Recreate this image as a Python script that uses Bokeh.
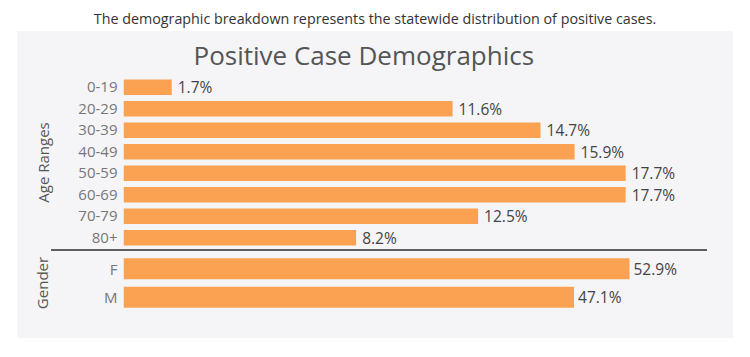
from bokeh.plotting import figure
from bokeh.models import ColumnDataSource, FactorRange, Range1d, Div
from bokeh.layouts import column
from bokeh.embed import file_html
from bokeh.resources import INLINE
from bokeh.core.properties import value

CAPTION = "The demographic breakdown represents the statewide distribution of positive cases."
TITLE = "Positive Case Demographics"
age_groups = ["0-19", "20-29", "30-39", "40-49", "50-59", "60-69", "70-79", "80+"]
age_pct = [1.7, 11.6, 14.7, 15.9, 17.7, 17.7, 12.5, 8.2]
genders = ["F", "M"]
gender_pct = [52.9, 47.1]

PANEL = "#f5f5f7"
BAR = "#faa252"
FONT = "Open Sans"


def style(p, label, standoff, tick_standoff):
    p.outline_line_color = None
    p.grid.grid_line_color = None
    ax = p.yaxis[0]
    ax.axis_label = label
    ax.axis_label_text_font = FONT
    ax.axis_label_text_font_size = "15px"
    ax.axis_label_text_font_style = "normal"
    ax.axis_label_text_color = "#555555"
    ax.axis_label_standoff = standoff
    ax.major_label_text_font = FONT
    ax.major_label_text_font_size = "15px"
    ax.major_label_text_color = "#777777"
    ax.major_label_standoff = tick_standoff
    ax.axis_line_color = None
    ax.major_tick_line_color = None
    ax.minor_tick_line_color = None
    ax.major_tick_out = 0
    ax.major_tick_in = 0


src_age = ColumnDataSource(dict(cat=age_groups, val=age_pct,
                                lab=[f"{v}%" for v in age_pct]))
src_gen = ColumnDataSource(dict(cat=genders, val=gender_pct,
                                lab=[f"{v}%" for v in gender_pct]))

p1 = figure(width=716, height=218,
            y_range=FactorRange(factors=age_groups[::-1]),
            x_range=Range1d(0, 20.55),
            x_axis_location=None, toolbar_location=None, output_backend="svg",
            min_border_left=106, min_border_right=27, min_border_top=45,
            min_border_bottom=1,
            background_fill_color=PANEL, border_fill_color=PANEL,
            title=TITLE, margin=(0, 0, 0, 0))
p1.title.text_font = FONT
p1.title.text_font_size = "26px"
p1.title.text_font_style = "normal"
p1.title.text_color = "#555555"
p1.title.align = "left"
p1.title.vertical_align = "top"
p1.title.offset = 70
p1.title.standoff = 4
style(p1, "Age Ranges", 22, 6)
p1.hbar(y="cat", right="val", left=0, height=0.72, source=src_age,
        fill_color=BAR, line_color=None)
p1.text(x="val", y="cat", text="lab", source=src_age, x_offset=6,
        text_baseline="middle", text_font=value(FONT), text_font_size="15.5px",
        text_color="#444444")

# thin separator line between the two groups
sep = Div(text="", width=716, height=2, margin=(0, 0, 0, 0),
          styles={"background": "linear-gradient(to right, #f5f5f7 0px, #f5f5f7 34px, "
                                "#5f5f5f 34px, #5f5f5f 690px, #f5f5f7 690px)"})

p2 = figure(width=716, height=87,
            y_range=FactorRange(factors=genders[::-1]),
            x_range=Range1d(0, 60.95),
            x_axis_location=None, toolbar_location=None, output_backend="svg",
            min_border_left=101, min_border_right=27, min_border_top=3,
            min_border_bottom=27,
            background_fill_color=PANEL, border_fill_color=PANEL,
            margin=(0, 0, 0, 0))
style(p2, "Gender", 49, 6)
p2.hbar(y="cat", right="val", left=0, height=0.74, source=src_gen,
        fill_color=BAR, line_color=None)
p2.text(x="val", y="cat", text="lab", source=src_gen, x_offset=4,
        text_baseline="middle", text_font=value(FONT), text_font_size="15.5px",
        text_color="#444444")

caption = Div(text=f'<div style="width:734px;text-align:center;font-family:\'Open Sans\';'
                   f'font-size:14.3px;line-height:20px;color:#333333;padding-top:1px;white-space:nowrap">{CAPTION}</div>',
              width=734, height=23, margin=(0, 0, 0, 0))

panel = column(p1, sep, p2, margin=(0, 0, 0, 9), spacing=0,
               styles={"background-color": PANEL})
layout = column(caption, panel, margin=(8, 0, 0, 8), spacing=0)

open("out.html", "w").write(file_html(layout, INLINE))
